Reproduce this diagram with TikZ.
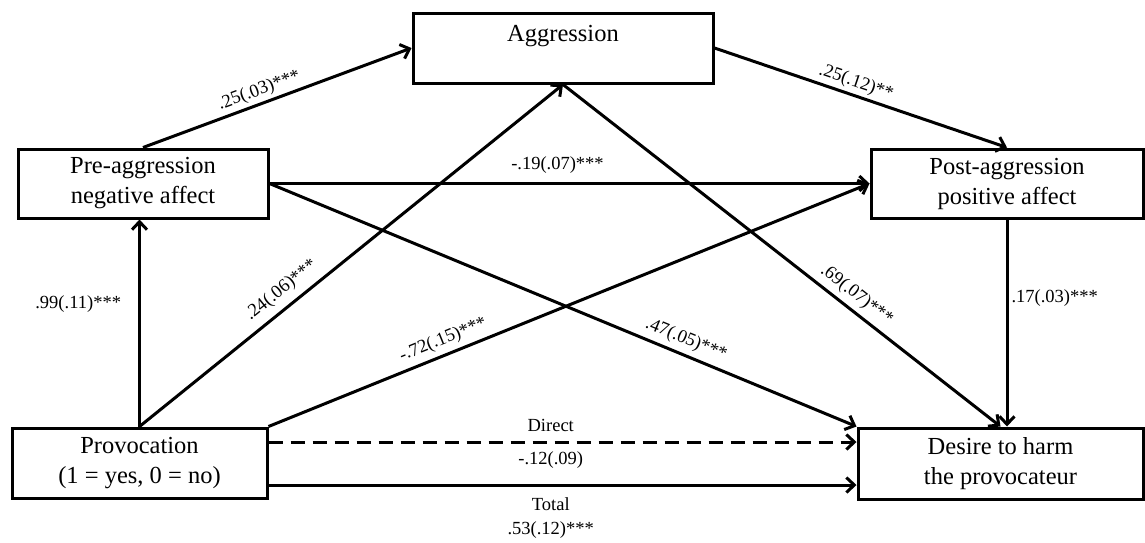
\documentclass[tikz,border=0pt]{standalone}
\usepackage{fontspec}
\setmainfont{Liberation Serif}
\usetikzlibrary{positioning}
\usetikzlibrary{arrows.meta}

\tikzset{
  varbox/.style={draw, line width=3pt, align=center, inner sep=0pt,
    font=\fontsize{24.5}{30}\selectfont},
  link/.style={line width=3pt, -{Straight Barb[length=8pt,width=15pt]}},
  coef/.style={font=\fontsize{18.5}{22}\selectfont, inner sep=3pt},
}

\begin{document}
\begin{tikzpicture}[x=1pt, y=-1pt]
        \useasboundingbox (0,0) rectangle (1145,542);
		 % Define the boxes
		\node[varbox, minimum width=300pt, minimum height=70pt] (agg) at (563,48) {Aggression\\\mbox{}};
		\node[varbox, minimum width=250pt, minimum height=69pt] (pre) at (143,183.5) {Pre-aggression\\negative affect};
		\node[varbox, minimum width=272pt, minimum height=69pt] (post) at (1007,183.5) {Post-aggression\\positive affect};
		\node[varbox, minimum width=255pt, minimum height=70pt] (prov) at (139.5,463) {Provocation\\(1 = yes, 0 = no)};
		\node[varbox, minimum width=285pt, minimum height=71pt] (harm) at (1000.5,463.5) {Desire to harm\\the provocateur};

         % Draw the lines
        \draw[link] (pre.north) -- node[coef, above, sloped, pos=0.45] (cPreAgg) {.25(.03)***} (agg.west);
        \draw[link] (agg.east) -- node[coef, above, sloped, pos=0.47] (cAggPost) {.25(.12)**} (post.north);
        \draw[link] (pre.east) -- node[coef, above=6pt, pos=0.48] (cPrePost) {-.19(.07)***} (post.west);
        \draw[link] (pre.east) -- node[coef, above=2pt, sloped, pos=0.70] (cPreHarm) {.47(.05)***} (harm.north west);
        \draw[link] (prov.north) -- node[coef, left=14pt, pos=0.59] (cProvPre) {.99(.11)***} (prov.north |- pre.south);
        \draw[link] (prov.north) -- node[coef, above=4pt, sloped, pos=0.36] (cProvAgg) {.24(.06)***} (agg.south);
        \draw[link] (prov.north east) -- node[coef, above=2pt, sloped, pos=0.30] (cProvPost) {-.72(.15)***} (post.west);
        \draw[link] (agg.south) -- node[coef, above=2pt, sloped, pos=0.65] (cAggHarm) {.69(.07)***} (harm.north);
        \draw[link] (post.south) -- node[coef, right, pos=0.38] (cPostHarm) {.17(.03)***} (post.south |- harm.north);

        % Direct and total effect
        \draw[link, dash pattern=on 14pt off 8pt] ([yshift=21pt]prov.east) -- node[coef, above=6pt, pos=0.48] (lDirect) {Direct}
          node[coef, below=5pt, pos=0.48] (cDirect) {-.12(.09)} ([yshift=21pt]prov.east -| harm.west);
        \draw[link] ([yshift=-22pt]prov.east) -- node[coef, below=8pt, pos=0.48] (lTotal) {Total} ([yshift=-22pt]prov.east -| harm.west);
        \node[coef, below=3pt of lTotal] (cTotal) {.53(.12)***};
      \end{tikzpicture}
\end{document}
